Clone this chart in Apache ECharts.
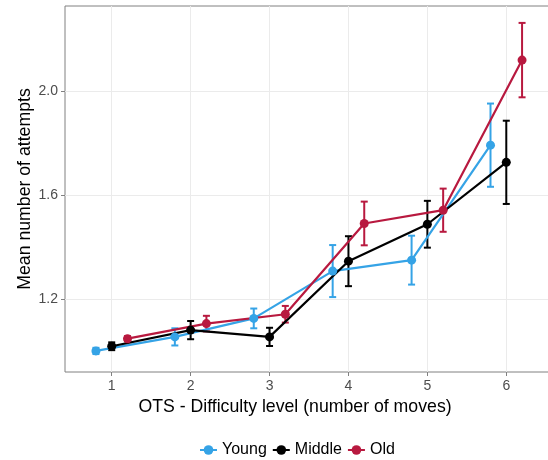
<!DOCTYPE html>
<html>
<head>
<meta charset="utf-8">
<script src="https://cdn.jsdelivr.net/npm/echarts@6/dist/echarts.min.js"></script>
<style>html,body{margin:0;padding:0;background:#fff}#c{width:548px;height:460px}</style>
</head>
<body>
<div id="c"></div>
<script>
var levels = [1, 2, 3, 4, 5, 6];
var groupNames = ['Young', 'Middle', 'Old'];
var youngMean  = [1.000, 1.054, 1.125, 1.307, 1.349, 1.791];
var youngErr   = [0.012, 0.033, 0.038, 0.100, 0.094, 0.160];
var middleMean = [1.018, 1.080, 1.054, 1.345, 1.487, 1.725];
var middleErr  = [0.015, 0.035, 0.035, 0.096, 0.090, 0.160];
var oldMean    = [1.047, 1.105, 1.141, 1.490, 1.541, 2.118];
var oldErr     = [0.010, 0.030, 0.032, 0.084, 0.083, 0.143];
var yTickLabels = [1.2, 1.6, 2.0];

var colors = ['#35A3E6', '#000000', '#B8193F'];
var dodge = [-0.2, 0, 0.2];
var means = [youngMean, middleMean, oldMean];
var errs = [youngErr, middleErr, oldErr];
var FONT = 'Liberation Sans, Arial, sans-serif';

var series = [];
groupNames.forEach(function (name, g) {
  var lineData = levels.map(function (l, i) { return [l + dodge[g], means[g][i]]; });
  var errData = levels.map(function (l, i) { return [l + dodge[g], means[g][i] - errs[g][i], means[g][i] + errs[g][i]]; });
  series.push({
    name: name + '-err',
    type: 'custom',
    data: errData,
    z: 3,
    renderItem: (function (col) {
      return function (params, api) {
        var x = api.value(0), lo = api.value(1), hi = api.value(2);
        var p1 = api.coord([x, hi]), p2 = api.coord([x, lo]);
        var hw = 3.5;
        var st = { stroke: col, lineWidth: 2 };
        return {
          type: 'group',
          children: [
            { type: 'line', shape: { x1: p1[0], y1: p1[1], x2: p2[0], y2: p2[1] }, style: st },
            { type: 'line', shape: { x1: p1[0] - hw, y1: p1[1], x2: p1[0] + hw, y2: p1[1] }, style: st },
            { type: 'line', shape: { x1: p2[0] - hw, y1: p2[1], x2: p2[0] + hw, y2: p2[1] }, style: st }
          ]
        };
      };
    })(colors[g])
  });
  series.push({
    name: name,
    type: 'line',
    data: lineData,
    z: 4,
    symbol: 'circle',
    symbolSize: 9,
    lineStyle: { color: colors[g], width: 2.2 },
    itemStyle: { color: colors[g] },
    emphasis: { disabled: true }
  });
});

var chart = echarts.init(document.getElementById('c'));
chart.setOption({
  animation: false,
  backgroundColor: '#ffffff',
  grid: { left: 65, top: 6, width: 488, bottom: 88, show: true, borderColor: '#808080', borderWidth: 1,
    containLabel: false, outerBoundsMode: 'none' },
  legend: {
    data: groupNames,
    left: 194, top: 437,
    itemWidth: 17, itemHeight: 12, itemGap: 5,
    textStyle: { fontFamily: FONT, fontSize: 16, color: '#000' }
  },
  xAxis: {
    type: 'value',
    min: 0.408, max: 6.592, interval: 1,
    name: 'OTS - Difficulty level (number of moves)',
    nameLocation: 'middle', nameGap: 26, nameMoveOverlap: false,
    nameTextStyle: { fontFamily: FONT, fontSize: 17.7, color: '#000', padding: [0, 28, 0, 0] },
    axisLine: { show: false },
    axisTick: { show: true, length: 4, lineStyle: { color: '#808080' }, customValues: levels },
    axisLabel: { fontFamily: FONT, fontSize: 14, color: '#4d4d4d', margin: 7, customValues: levels },
    splitLine: { show: true, lineStyle: { color: '#ebebeb', width: 1 } }
  },
  yAxis: {
    type: 'value',
    min: 0.919, max: 2.326, interval: 0.2,
    name: 'Mean number of attempts',
    nameLocation: 'middle', nameGap: 31, nameMoveOverlap: false,
    nameTextStyle: { fontFamily: FONT, fontSize: 17.7, color: '#000' },
    axisLine: { show: false },
    axisTick: { show: true, length: 4, lineStyle: { color: '#808080' }, customValues: yTickLabels },
    axisLabel: { fontFamily: FONT, fontSize: 14, color: '#4d4d4d', margin: 7, customValues: yTickLabels,
      formatter: function (v) { return v.toFixed(1); } },
    splitLine: { show: true, lineStyle: { color: '#ebebeb', width: 1 } }
  },
  series: series
});
</script>
</body>
</html>
